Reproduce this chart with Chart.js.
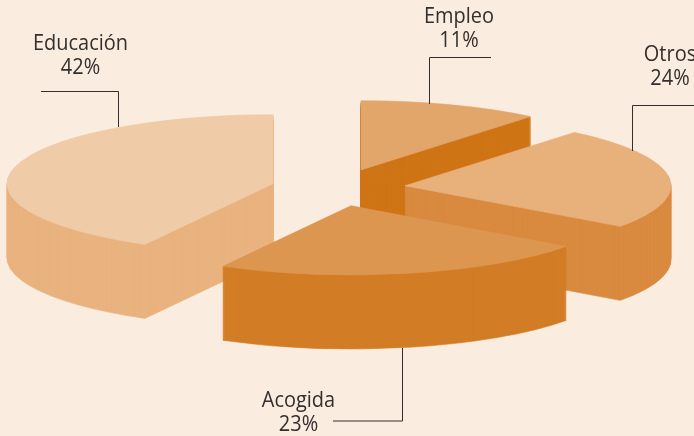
<!DOCTYPE html>
<html>
<head>
<meta charset="utf-8">
<script src="https://cdn.jsdelivr.net/npm/chart.js@4"></script>
<style>
  html, body { margin: 0; padding: 0; background: #faecdf; overflow: hidden; }
  #wrap { width: 694px; height: 436px; }
</style>
</head>
<body>
<div id="wrap"><canvas id="myChart" width="694" height="436"></canvas></div>
<script>
// clockwise from 12 o'clock
const categories = ['Empleo', 'Otros', 'Acogida', 'Educación'];
const shares = [11, 24, 23, 42];

const topColors = ['#e2a66a', '#e8b07b', '#dc9650', '#f0cba8'];
const sideColors = ['#cf7516', '#d98a3f', '#d27d27', '#e9b37f'];
const explode = [74, 70, 70, 65];

const squash = 0.26;
const depth = 74;
const pieX = 336;
const pieY = 188;
const drawOrder = [0, 1, 3, 2];   // back to front

const notes = [
    { lines: ['Educación', '42%'], x: 80.5, y: [50, 74], leader: [[41, 91.5], [118.5, 91.5], [118.5, 127]] },
    { lines: ['Empleo', '11%'], x: 459, y: [23, 47], leader: [[491, 57.5], [429.5, 57.5], [429.5, 104]] },
    { lines: ['Otros', '24%'], x: 670, y: [61, 85], leader: [[694, 105.5], [632.5, 105.5], [632.5, 151]] },
    { lines: ['Acogida', '23%'], x: 298.5, y: [407, 431], leader: [[402.5, 348], [402.5, 421], [333, 421]] },
];

const pie3d = {
    id: 'pie3d',
    beforeDatasetDraw(chart, args) {
        const ctx = chart.ctx;
        const arcs = args.meta.data;
        drawOrder.forEach(i => {
            const arc = arcs[i];
            const mid = (arc.startAngle + arc.endAngle) / 2;
            const dx = Math.cos(mid) * explode[i];
            const dy = Math.sin(mid) * explode[i] * squash;
            const place = d => {
                ctx.save();
                ctx.translate(Math.round(pieX - arc.x + dx), pieY - arc.y * squash + dy + d);
                ctx.scale(1, squash);
                arc.draw(ctx);
                ctx.restore();
            };
            const topOptions = arc.options;
            arc.options = Object.assign(Object.create(topOptions), { backgroundColor: sideColors[i], borderColor: sideColors[i] });
            for (let d = depth; d > 0; d--) {
                place(d);
            }
            arc.options = topOptions;
            place(0);
        });
        return false;
    },
    afterDraw(chart) {
        const ctx = chart.ctx;
        ctx.save();
        ctx.strokeStyle = '#332f2d';
        ctx.lineWidth = 1;
        ctx.fillStyle = '#332f2d';
        ctx.font = '21px "Open Sans"';
        ctx.textAlign = 'center';
        notes.forEach(n => {
            n.lines.forEach((t, i) => {
                ctx.save();
                ctx.translate(n.x, n.y[i]);
                ctx.scale(0.95, 1);
                ctx.fillText(t, 0, 0);
                ctx.restore();
            });
            ctx.beginPath();
            n.leader.forEach((p, i) => i ? ctx.lineTo(p[0], p[1]) : ctx.moveTo(p[0], p[1]));
            ctx.stroke();
        });
        ctx.restore();
    }
};

const myChart = new Chart(document.getElementById('myChart'), {
    type: 'pie',
    data: {
        labels: categories,
        datasets: [{
            data: shares,
            backgroundColor: topColors,
            borderColor: topColors,
            borderWidth: 1,
        }]
    },
    options: {
        responsive: false,
        animation: false,
        radius: 266,
        events: [],
        plugins: {
            legend: { display: false },
            tooltip: { enabled: false },
        }
    },
    plugins: [pie3d],
});
</script>
</body>
</html>
